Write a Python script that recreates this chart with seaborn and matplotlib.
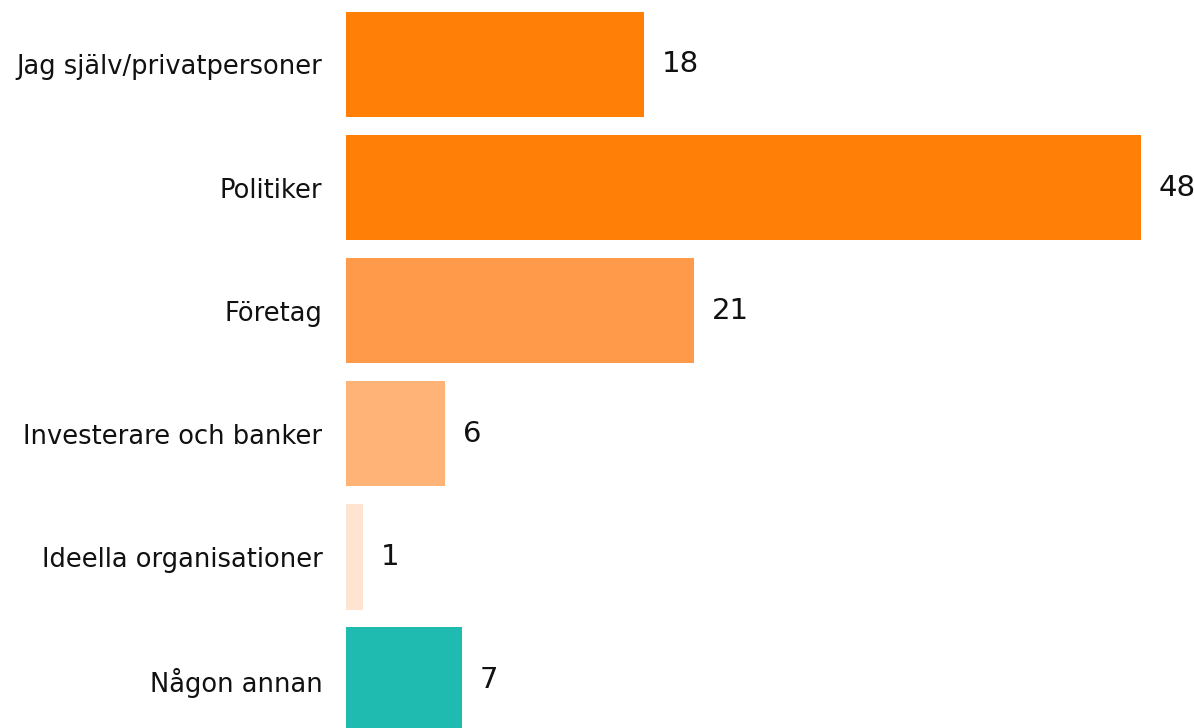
import matplotlib
matplotlib.use("Agg")
import matplotlib.pyplot as plt
import seaborn as sns
import pandas as pd

categories = [
    "Jag själv/privatpersoner",
    "Politiker",
    "Företag",
    "Investerare och banker",
    "Ideella organisationer",
    "Någon annan",
]
values = [18, 48, 21, 6, 1, 7]
colors = ["#FF7F07", "#FF7F07", "#FF9A4A", "#FFB377", "#FFE4D2", "#20BBB0"]

df = pd.DataFrame({"category": categories, "value": values})

sns.set_style("white")
plt.rcParams["font.family"] = ["DejaVu Sans"]

fig = plt.figure(figsize=(11.94, 7.28), dpi=100)
ax = fig.add_axes([346 / 1194, 0, 848 / 1194, 1])

sns.barplot(data=df, x="value", y="category", hue="category",
            palette=colors, orient="h", width=0.855, legend=False,
            saturation=1, linewidth=0, ax=ax)

ax.set_xlim(0, 48 * 848 / 795)
ax.set_ylim((728 - 64.5) / 123.1, -64.5 / 123.1)

for container in ax.containers:
    ax.bar_label(container, fmt="%d", padding=13, fontsize=21, color="#111111")

ax.set_xlabel("")
ax.set_ylabel("")
ax.set_xticks([])
ax.tick_params(axis="y", length=0, pad=17, labelsize=18.5, labelcolor="#111111")
sns.despine(ax=ax, left=True, bottom=True)

fig.savefig("out.png", dpi=100)
